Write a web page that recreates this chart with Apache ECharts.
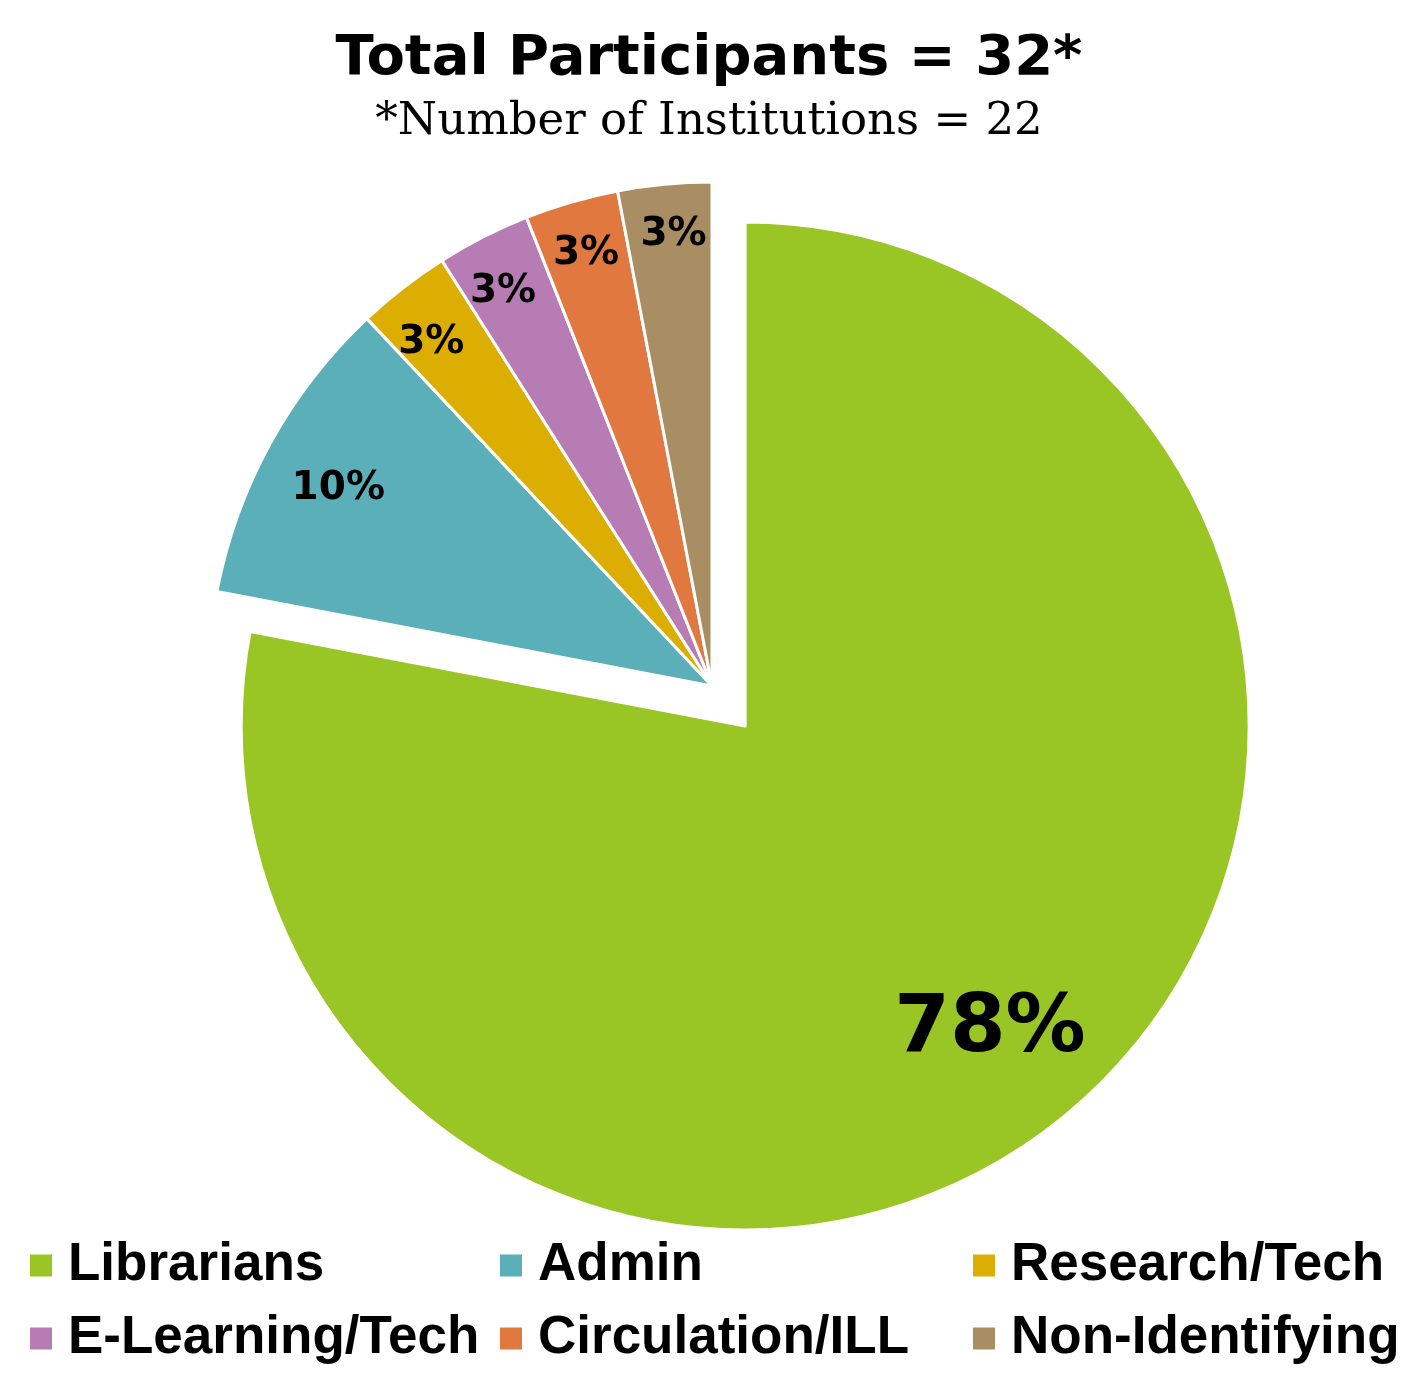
<!DOCTYPE html>
<html>

<head>
    <meta charset="utf-8">
    <script type="text/javascript" src="https://cdn.jsdelivr.net/npm/echarts@6/dist/echarts.min.js"></script>
    <title>Total Participants</title>
    <style>
        html, body { margin: 0; padding: 0; background: #fff; }
    </style>
</head>

<body>
    <div id="container" style="width:1418px;height:1383px;"></div>
    <script type="text/javascript">
    // categories and percentages
    var categories = ['Librarians', 'Admin', 'Research/Tech', 'E-Learning/Tech', 'Circulation/ILL', 'Non-Identifying'];
    var percents = [78, 10, 3, 3, 3, 3];
    var colors = ['#99c624', '#5bafb8', '#ddae02', '#b77cb3', '#e07840', '#a98d63'];

    var myChart = echarts.init(document.getElementById('container'));

    var R = 504;          // pie radius in px
    var center = [712, 686];
    var explode = 52;     // offset of the Librarians slice

    // small nudges so the labels sit where the original ones do
    var labelNudge = [[-43, -44], [22, 20], [-4, 14], [-4, 8], [0, 2], [4, -2]];

    // main slices
    var sliceData = categories.map(function(name, i) {
        return {
            name: name,
            value: percents[i],
            selected: i === 0,
            itemStyle: { color: colors[i] }
        };
    });

    // invisible copy used only to put the labels near the rim
    var labelData = categories.map(function(name, i) {
        var lab = { offset: labelNudge[i] };
        if (i === 0) lab.fontSize = 80;
        return {
            name: name,
            value: percents[i],
            selected: i === 0,
            itemStyle: { color: 'rgba(0,0,0,0)' },
            label: lab,
            select: { label: lab }
        };
    });

    // legend: three columns, two rows
    function legendCol(names, left) {
        return {
            data: names,
            left: left,
            top: 1239,
            padding: 0,
            orient: 'vertical',
            itemWidth: 22,
            itemHeight: 22,
            itemGap: 20,
            icon: 'rect',
            selectedMode: false,
            itemStyle: { borderWidth: 0 },
            textStyle: {
                fontFamily: 'Liberation Sans',
                fontWeight: 'bold',
                fontSize: 53,
                padding: [0, 0, 0, 11],
                color: '#000'
            }
        };
    }

    var option = {
        animation: false,
        title: [{
            text: 'Total Participants = 32*',
            left: 'center',
            top: 26,
            textStyle: {
                fontFamily: 'DejaVu Sans',
                fontWeight: 'bold',
                fontSize: 56,
                color: '#000'
            }
        }, {
            text: '*Number of Institutions = 22',
            left: 'center',
            top: 95,
            textStyle: {
                fontFamily: 'DejaVu Serif',
                fontWeight: 'normal',
                fontSize: 45,
                color: '#000'
            }
        }],
        legend: [
            legendCol([categories[0], categories[3]], 30),
            legendCol([categories[1], categories[4]], 500),
            legendCol([categories[2], categories[5]], 973)
        ],
        series: [{
            name: 'Participants',
            type: 'pie',
            center: center,
            radius: [0, R],
            startAngle: 90,
            clockwise: true,
            selectedMode: 'single',
            selectedOffset: explode,
            silent: true,
            itemStyle: { borderColor: '#fff', borderWidth: 3 },
            label: { show: false },
            labelLine: { show: false },
            data: sliceData
        }, {
            name: 'labels',
            type: 'pie',
            center: center,
            radius: [0, R * 1.78],
            startAngle: 90,
            clockwise: true,
            selectedMode: 'single',
            selectedOffset: explode,
            silent: true,
            label: {
                show: true,
                position: 'inside',
                formatter: '{c}%',
                fontFamily: 'DejaVu Sans',
                fontWeight: 'bold',
                fontSize: 39,
                color: '#000'
            },
            labelLine: { show: false },
            data: labelData
        }]
    };

    myChart.setOption(option);
    </script>
</body>

</html>
